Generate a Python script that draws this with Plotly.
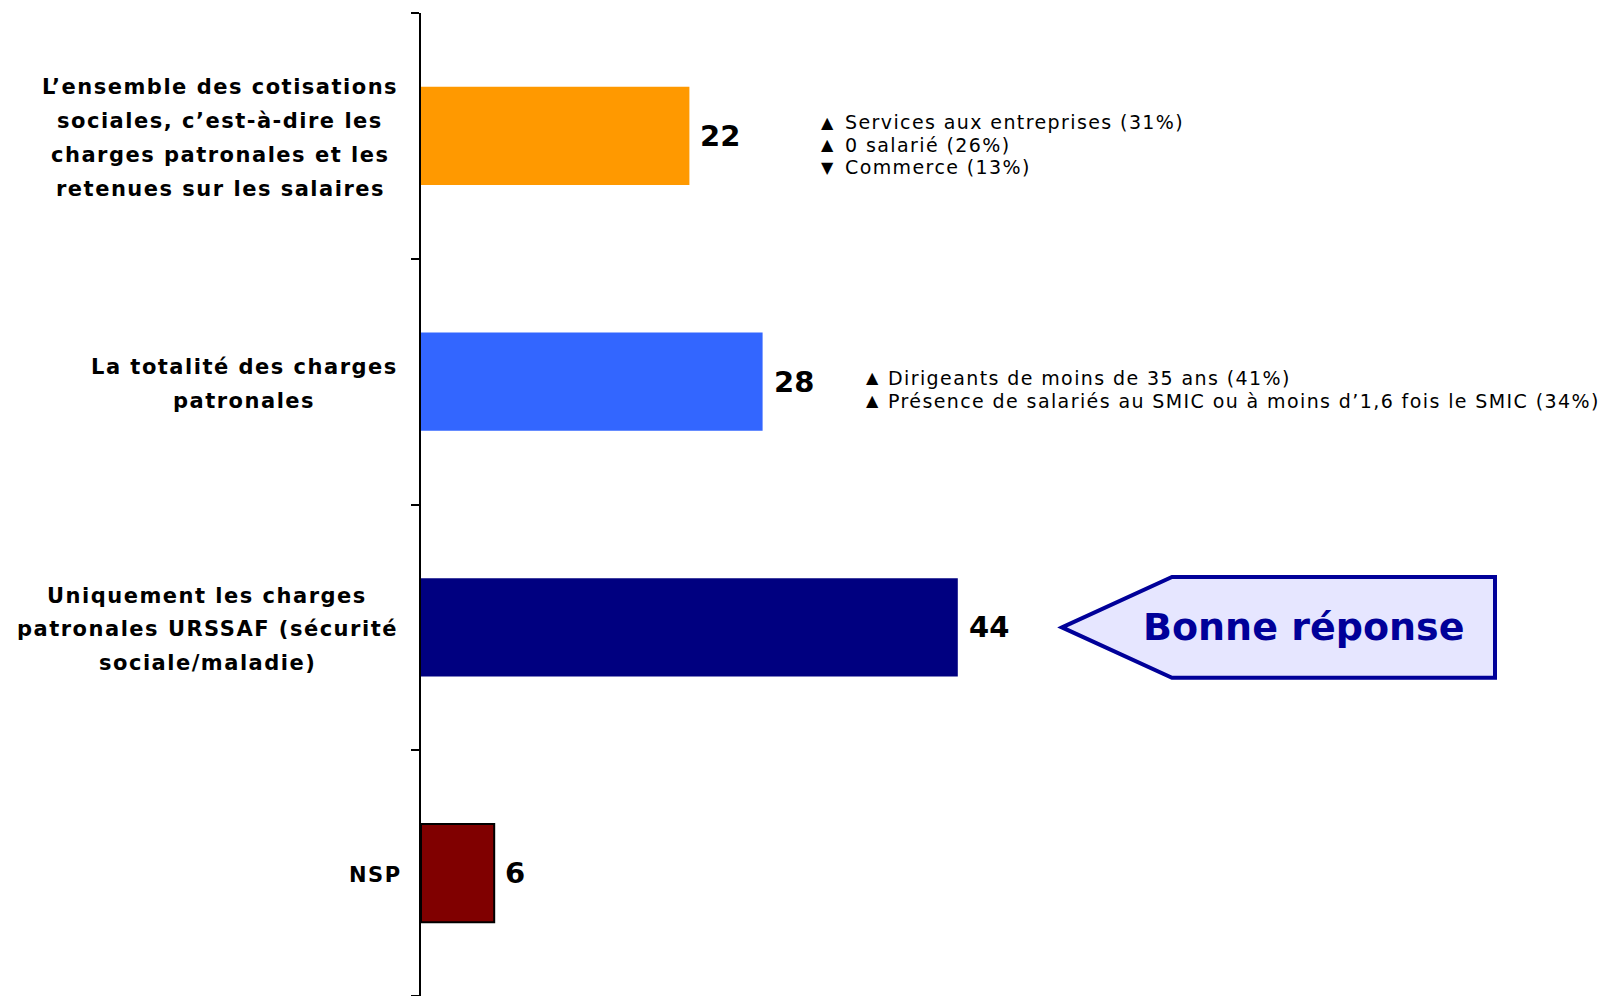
import plotly.graph_objects as go

# categories, top to bottom
categories = [
    "L’ensemble des cotisations<br>sociales, c’est-à-dire les<br>charges patronales et les<br>retenues sur les salaires",
    "La totalité des charges<br>patronales",
    "Uniquement les charges<br>patronales URSSAF (sécurité<br>sociale/maladie)",
    "NSP",
]
values = [22, 28, 44, 6]

# sub-group highlights next to the first two bars
notes_first = [("▲", "Services aux entreprises (31%)"),
               ("▲", "0 salarié (26%)"),
               ("▼", "Commerce (13%)")]
notes_second = [("▲", "Dirigeants de moins de 35 ans (41%)"),
                ("▲", "Présence de salariés au SMIC ou à moins d’1,6 fois le SMIC (34%)")]
answer_label = "Bonne réponse"
answer_index = 2

bar_colors = ["#FF9900", "#3366FF", "#000080", "#800000"]
line_colors = ["#FF9900", "#3366FF", "#000080", "#000000"]
line_widths = [0, 0, 0, 2]

FONT = "DejaVu Sans"
BODY = 8              # default page margin around the plot div
W, H = 1607 - BODY, 996 - BODY
AXIS_X = 421          # page x of the value axis origin
PX_PER_UNIT = 12.2
plot_w = 1607 - AXIS_X


def data_x(px):
    return (px - AXIS_X) / PX_PER_UNIT


def paper_x(px):
    return (px - AXIS_X) / plot_w


def spaced(txt, ls):
    return f"<span style='letter-spacing:{ls}px'>{txt}</span>"


fig = go.Figure()
fig.add_trace(go.Bar(
    x=values,
    y=list(range(len(categories))),
    orientation="h",
    width=0.4,
    marker=dict(color=bar_colors, line=dict(color=line_colors, width=line_widths)),
    hoverinfo="skip",
))

annotations = []

# category labels: centred lines, block centres
label_centres = [220, 244, 207, 375]
for i, cat in enumerate(categories):
    lines = cat.split("<br>")
    n = len(lines)
    for j, ln in enumerate(lines):
        offset = (j - (n - 1) / 2) * 33.8 + 2
        annotations.append(dict(
            x=paper_x(label_centres[i]), xref="paper", y=i, yref="y",
            text=spaced(ln, 1.5), showarrow=False,
            xanchor="center", yanchor="middle", yshift=-offset,
            font=dict(family=FONT, size=21, color="black", weight="bold"),
        ))

# value labels
for i, v in enumerate(values):
    annotations.append(dict(
        x=v, y=i, xref="x", yref="y", text=str(v), showarrow=False,
        xanchor="left", yanchor="middle", xshift=9,
        font=dict(family=FONT, size=29, color="black", weight="bold"),
    ))


def add_notes(items, row, tri_px, txt_px, offsets):
    for (sym, txt), off in zip(items, offsets):
        annotations.append(dict(
            x=data_x(tri_px), y=row, xref="x", yref="y", text=sym, showarrow=False,
            xanchor="left", yanchor="middle", yshift=-off,
            font=dict(family=FONT, size=16, color="black"),
        ))
        annotations.append(dict(
            x=data_x(txt_px), y=row, xref="x", yref="y", text=spaced(txt, 1.4),
            showarrow=False, xanchor="left", yanchor="middle", yshift=-off,
            font=dict(family=FONT, size=19, color="black"),
        ))


add_notes(notes_first, 0, 819, 843, [-13.5, 9, 31.5])
add_notes(notes_second, 1, 864, 886, [-4, 19])

# callout arrow for the right answer
tip, corner, right = data_x(1062), data_x(1172), data_x(1495)
hh = 0.205
y0 = answer_index
path = (f"M {tip} {y0} L {corner} {y0 - hh} L {right} {y0 - hh} "
        f"L {right} {y0 + hh} L {corner} {y0 + hh} Z")
fig.add_shape(type="path", path=path, xref="x", yref="y",
              fillcolor="#E6E6FF", line=dict(color="#000099", width=4))
annotations.append(dict(
    x=data_x(1303), y=answer_index, xref="x", yref="y", text=answer_label,
    showarrow=False, xanchor="center", yanchor="middle",
    font=dict(family=FONT, size=38, color="#000099", weight="bold"),
))

fig.update_layout(
    width=W, height=H,
    margin=dict(l=AXIS_X - BODY, r=0, t=13 - BODY, b=0),
    paper_bgcolor="white", plot_bgcolor="white",
    showlegend=False,
    xaxis=dict(visible=False, range=[0, plot_w / PX_PER_UNIT]),
    yaxis=dict(
        range=[len(categories) - 0.5, -0.5],
        tickvals=[k - 0.5 for k in range(len(categories) + 1)],
        showticklabels=False, ticks="outside", ticklen=8, tickwidth=1.5,
        tickcolor="black", showline=True, linecolor="black", linewidth=1.5,
        showgrid=False, zeroline=False,
    ),
    annotations=annotations,
)

fig.write_html("out.html")
